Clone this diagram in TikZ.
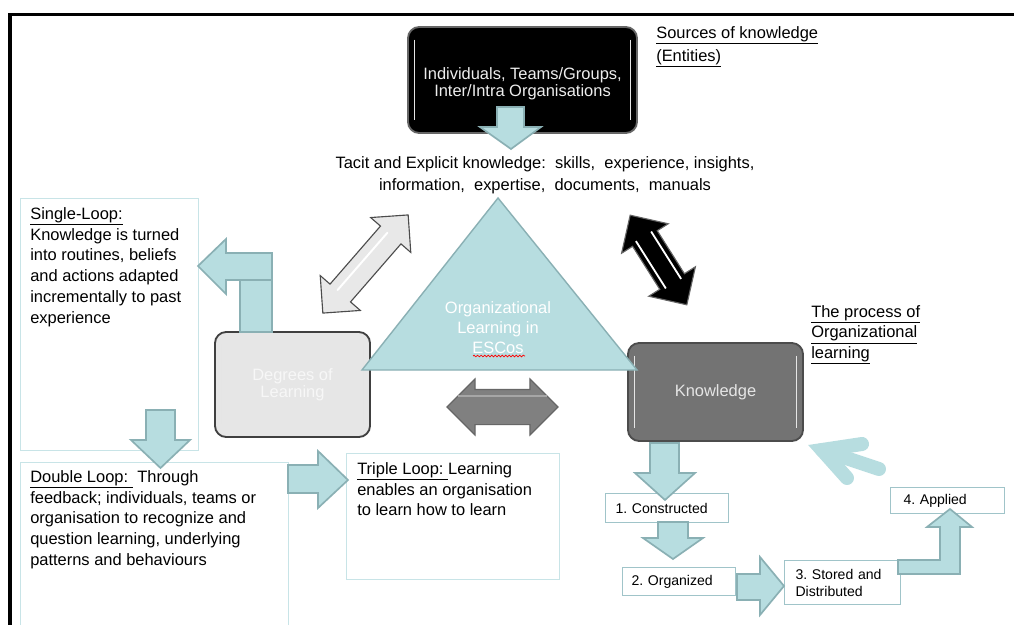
\documentclass[tikz,border=0pt]{standalone}
\usepackage{fontspec}
\setmainfont{Liberation Sans}
\frenchspacing
\usetikzlibrary{shapes.arrows,decorations.pathmorphing}
\definecolor{tealfill}{RGB}{183,221,224}
\definecolor{tealline}{RGB}{138,176,180}
\definecolor{noteline}{RGB}{200,228,231}
\definecolor{stepline}{RGB}{160,196,201}
\definecolor{knowgray}{RGB}{115,115,115}
\definecolor{degreegray}{RGB}{230,230,230}
\tikzset{
  bodytext/.style={font=\fontsize{11.7}{14.8}\selectfont,align=left,inner sep=0pt,anchor=north west},
  notebox/.style={draw=noteline,line width=0.7pt},
  stepbox/.style={draw=stepline,line width=0.7pt,fill=white,font=\fontsize{10}{12.1}\selectfont,align=left,inner ysep=0pt,inner xsep=0.25cm,minimum height=0.725cm},
  flow/.style={fill=tealfill,draw=tealline,line width=1.2pt,line join=miter},
  bigbox/.style={rounded corners=0.28cm,line width=1.3pt,inner sep=0pt,align=center,font=\fontsize{11.7}{12.4}\selectfont,
    path picture={
      \draw[white!80!gray,line width=0.8pt] ([xshift=4.5pt,yshift=-9pt]path picture bounding box.north west) -- ([xshift=4.5pt,yshift=9pt]path picture bounding box.south west);
      \draw[white!80!gray,line width=0.8pt] ([xshift=-4.5pt,yshift=-9pt]path picture bounding box.north east) -- ([xshift=-4.5pt,yshift=9pt]path picture bounding box.south east);}},
  shiny/.style={double arrow,inner xsep=0pt,line width=0.8pt}
}
\begin{document}
\begin{tikzpicture}[x=0.025cm,y=-0.025cm]
\useasboundingbox (0,0) rectangle (1014,625);
\fill[white] (0,0) rectangle (1014,625);
\draw[line width=2.2pt] (10,630) -- (10,14.5) -- (1014,14.5);

\draw[notebox] (20,198) rectangle (198,450);
\draw[notebox] (20,630) -- (20,462) -- (288,462) -- (288,630);
\draw[notebox] (346,453) rectangle (559,579);

\node[bigbox,fill=black,draw=black!60,text=white!93!black,minimum width=5.725cm,minimum height=2.65cm] (sources) at (522.5,80) {\rule{0pt}{0.48cm}Individuals, Teams/Groups,\\Inter/Intra Organisations};
\node[bigbox,fill=degreegray,draw=black!75,text=white!97!black,minimum width=3.875cm,minimum height=2.625cm] (degrees) at (292.5,384.5) {Degrees of\\Learning};
\node[bigbox,fill=knowgray,draw=black!70,text=white!90!black,minimum width=4.375cm,minimum height=2.45cm] (knowledge) at (715.5,392) {Knowledge};

\node[shiny,fill=gray!18,draw=black!70,inner ysep=0.325cm,double arrow head extend=0.325cm,minimum height=3.25cm,minimum width=1.3cm,rotate=49] (lightarrow) at (365.5,264) {};
\node[shiny,fill=black,draw=black!60,inner ysep=0.35cm,double arrow head extend=0.325cm,minimum height=2.65cm,minimum width=1.35cm,rotate=-57.7] (blackarrow) at (658.5,260) {};
\node[shiny,draw=black!60,fill=black!50,inner ysep=0.425cm,double arrow head extend=0.2625cm,minimum height=2.775cm,minimum width=1.375cm] (grayarrow) at (502.5,407) {};
\begin{scope}[shift={(lightarrow.center)},rotate=49]
\draw[white,line width=1.4pt,line cap=round] (-38,-4) -- (38,-4);
\end{scope}
\begin{scope}[shift={(blackarrow.center)},rotate=-57.7]
\draw[white,line width=1.3pt] (-28,-9) -- (28,-9);
\draw[white,line width=1.3pt] (-28,9) -- (28,9);
\end{scope}
\draw[black!35,line width=1pt] ([xshift=-1.1cm,yshift=0.28cm]grayarrow.center) -- ([xshift=1.1cm,yshift=0.28cm]grayarrow.center);

\draw[fill=tealfill,draw=tealline,line width=1pt] (498,198) -- (362,370) -- (637,370) -- cycle;
\node[font=\fontsize{11.7}{14.2}\selectfont,text=white,align=center,inner sep=0pt] (escos) at (498,328) {Organizational\\Learning in\\ESCos};
\draw[red,line width=0.5pt,decorate,decoration={snake,amplitude=0.6pt,segment length=2.5pt}] (473,356) -- (525,356);

\draw[flow] (497,107) -- (524,107) -- (524,127) -- (541,127) -- (511,149) -- (480,127) -- (497,127) -- cycle;
\draw[flow] (240,280) rectangle (272,332);
\draw[flow] (272,253) -- (272,280) -- (226,280) -- (226,294) -- (198,266) -- (226,239) -- (226,253) -- cycle;
\draw[flow] (146,410) -- (175,410) -- (175,440) -- (190,440) -- (160.5,468) -- (131,440) -- (146,440) -- cycle;
\draw[flow] (288,465) -- (318,465) -- (318,451) -- (348,480) -- (318,508) -- (318,493) -- (288,493) -- cycle;

\node[stepbox,text width=2.575cm,anchor=north west] (constructed) at (605,493) {1. Constructed};
\node[stepbox,text width=2.375cm,minimum height=0.7cm,anchor=north west,inner xsep=0.225cm] (organized) at (622,567) {2. Organized};
\node[stepbox,text width=2.35cm,minimum height=1.1cm,anchor=north west,inner xsep=0.275cm] (stored) at (784,560) {3. Stored and\\Distributed};
\node[stepbox,text width=2.2cm,minimum height=0.65cm,anchor=north west,inner xsep=0.325cm] (applied) at (890,487) {4. Applied};

\draw[flow] (650,443) -- (679,443) -- (679,473) -- (695,473) -- (665,500) -- (635,473) -- (650,473) -- cycle;
\draw[flow] (658,522) -- (688,522) -- (688,538) -- (703,538) -- (673,559) -- (643,538) -- (658,538) -- cycle;
\draw[flow] (737,574) -- (760,574) -- (760,557) -- (784,586) -- (760,615) -- (760,600) -- (737,600) -- cycle;
\draw[flow] (898,560) -- (940,560) -- (940,527) -- (927,527) -- (950,509) -- (972,527) -- (960,527) -- (960,574) -- (898,574) -- cycle;

\draw[tealfill,line width=0.35cm,line cap=round,line join=miter] (862,444) -- (822,450) -- (847,478);
\draw[tealfill,line width=0.35cm,line cap=round] (822,450) -- (879,469);

\node[bodytext,anchor=north,align=center,font=\fontsize{11.7}{15.6}\selectfont] (tacit) at (545,156) {Tacit and Explicit knowledge:\ \ skills,\ \ experience, insights,\\information,\ \ expertise,\ \ documents,\ \ manuals};
\node[bodytext,font=\fontsize{11.7}{16.4}\selectfont] (entities) at (656,26) {\underline{Sources of knowledge}\\\underline{(Entities)}};
\node[bodytext,font=\fontsize{11.7}{14.6}\selectfont] (process) at (811,305) {\underline{The process of}\\\underline{Organizational}\\\underline{learning}};
\node[bodytext] (single) at (30,207) {\underline{Single-Loop:}\\Knowledge is turned\\into routines, beliefs\\and actions adapted\\incrementally to past\\experience};
\node[bodytext] (double) at (30,470) {\underline{Double Loop:\ }\ Through\\feedback; individuals, teams or\\organisation to recognize and\\question learning, underlying\\patterns and behaviours};
\node[bodytext] (triple) at (357,462) {\underline{Triple Loop:\ }Learning\\enables an organisation\\to learn how to learn};
\end{tikzpicture}
\end{document}
